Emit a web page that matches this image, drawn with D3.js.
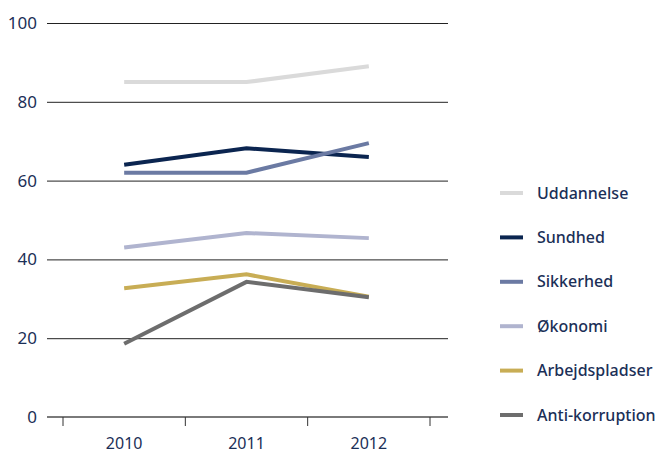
<!DOCTYPE html>
<html>
<head>
<meta charset="utf-8">
<script src="https://cdn.jsdelivr.net/npm/d3@7"></script>
<style>
  body { margin: 0; background: #fff; }
  text { font-family: "Noto Sans", "Open Sans", sans-serif; fill: #1b2f57; }
</style>
</head>
<body>
<script>
// data
var years = ["2010", "2011", "2012"];
var seriesNames = ["Uddannelse", "Sundhed", "Sikkerhed", "Økonomi", "Arbejdspladser", "Anti-korruption"];
var seriesColors = ["#dadada", "#0b2550", "#6b7aa3", "#b0b4cf", "#c8ad55", "#6d6d6d"];
var uddannelse = [85, 85, 89];
var sundhed = [64, 68.2, 66];
var sikkerhed = [62, 62, 69.5];
var okonomi = [43, 46.7, 45.4];
var arbejdspladser = [32.7, 36.2, 30.5];
var antiKorruption = [18.6, 34.3, 30.4];
var yTicks = [0, 20, 40, 60, 80, 100];

var allValues = [uddannelse, sundhed, sikkerhed, okonomi, arbejdspladser, antiKorruption];

var width = 656, height = 453;
var svg = d3.select("body").append("svg").attr("width", width).attr("height", height);

var x = d3.scaleBand().domain(years).range([63, 430]);
var y = d3.scaleLinear().domain([0, 100]).range([417, 23]);

// gridlines
svg.selectAll("line.grid")
    .data(yTicks.filter(function (d) { return d > 0; }))
    .enter().append("line")
    .attr("class", "grid")
    .attr("x1", 47).attr("x2", 448)
    .attr("y1", function (d) { return y(d) + 0.5; })
    .attr("y2", function (d) { return y(d) + 0.5; })
    .attr("stroke", "#222")
    .attr("stroke-width", 1);

// y labels
svg.selectAll("text.ylab")
    .data(yTicks)
    .enter().append("text")
    .attr("class", "ylab")
    .attr("x", 37)
    .attr("y", function (d) { return y(d); })
    .attr("dy", "0.35em")
    .attr("text-anchor", "end")
    .style("font-size", "17px")
    .text(function (d) { return d; });

// x axis
var xAxis = svg.append("g").attr("transform", "translate(0," + y(0) + ")");
xAxis.append("line")
    .attr("x1", 47).attr("x2", 448)
    .attr("stroke", "#7a7a7a").attr("stroke-width", 2);
var tickPos = years.map(function (d) { return x(d); }).concat([x.range()[1]]);
xAxis.selectAll("line.tick")
    .data(tickPos)
    .enter().append("line")
    .attr("class", "tick")
    .attr("x1", function (d) { return d; }).attr("x2", function (d) { return d; })
    .attr("y1", 0).attr("y2", 9)
    .attr("stroke", "#333").attr("stroke-width", 1);
xAxis.selectAll("text")
    .data(years)
    .enter().append("text")
    .attr("x", function (d) { return x(d) + x.bandwidth() / 2; })
    .attr("y", 32)
    .attr("text-anchor", "middle")
    .style("font-size", "16px")
    .text(function (d) { return d; });

// lines
var line = d3.line()
    .x(function (d, i) { return x(years[i]) + x.bandwidth() / 2; })
    .y(function (d) { return y(d); });

svg.selectAll("path.series")
    .data(allValues)
    .enter().append("path")
    .attr("class", "series")
    .attr("d", line)
    .attr("fill", "none")
    .attr("stroke", function (d, i) { return seriesColors[i]; })
    .attr("stroke-width", 4);

// legend
var legend = svg.selectAll("g.legend")
    .data(seriesNames)
    .enter().append("g")
    .attr("class", "legend")
    .attr("transform", function (d, i) { return "translate(500," + (193 + i * 44.4) + ")"; });
legend.append("line")
    .attr("x1", 0).attr("x2", 23)
    .attr("stroke", function (d, i) { return seriesColors[i]; })
    .attr("stroke-width", 4);
legend.append("text")
    .attr("x", 37)
    .attr("dy", "0.35em")
    .style("font-size", "16px")
    .style("font-weight", "500")
    .text(function (d) { return d; });
</script>
</body>
</html>
